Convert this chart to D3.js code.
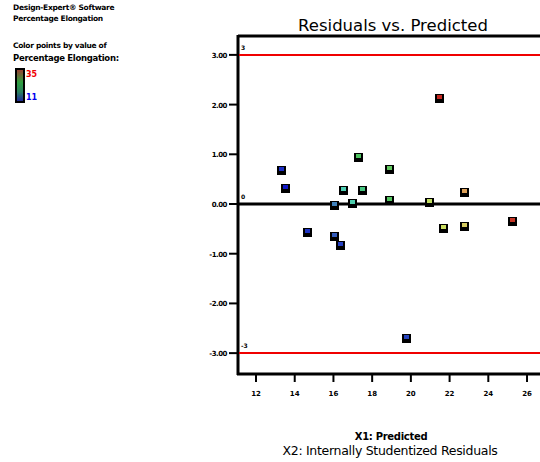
<!DOCTYPE html>
<html>
<head>
<meta charset="utf8" />
<script src="https://cdn.jsdelivr.net/npm/d3@7"></script>
<style>
  body { margin: 0; background: #fff; }
  text { font-family: "DejaVu Sans", sans-serif; }
</style>
</head>
<body>
<script>
// predicted values (X1) and internally studentized residuals (X2)
var predicted = [13.29, 13.5, 14.63, 16.03, 16.03, 16.34, 16.49, 16.96, 17.27, 17.48,
                 18.87, 18.87, 20.94, 21.66, 21.45, 19.75, 22.74, 22.74, 25.22];
var residuals = [0.68, 0.32, -0.56, -0.02, -0.64, -0.82, 0.28, 0.03, 0.95, 0.28,
                 0.70, 0.08, 0.04, -0.48, 2.13, -2.70, 0.24, -0.44, -0.34];
// relative value of percentage elongation, used for colouring (0 low .. 1 high)
var elongation = [0.04, 0.0, 0.05, 0.18, 0.12, 0.07, 0.32, 0.33, 0.47, 0.40,
                  0.50, 0.48, 0.64, 0.66, 0.98, 0.08, 0.82, 0.72, 0.96];
var xTicks = [12, 14, 16, 18, 20, 22, 24, 26];
var yTicks = [3, 2, 1, 0, -1, -2, -3];
var yTickLabels = ["3.00", "2.00", "1.00", "0.00", "-1.00", "-2.00", "-3.00"];
var limit = 3;

var w = 540, h = 462;
var svg = d3.select("body").append("svg").attr("width", w).attr("height", h);

var x = d3.scaleLinear().domain([11.07, 26.67]).range([238, 540]);
var y = d3.scaleLinear().domain([3.38, -3.40]).range([36, 373]);

var color = d3.scaleLinear()
  .domain([0, 0.15, 0.3, 0.45, 0.65, 0.8, 1])
  .range(["#1018c8", "#3c6cb8", "#50d0c0", "#40c060", "#c8e060", "#e0b060", "#c01818"]);

// title
svg.append("text").attr("x", 393).attr("y", 31).attr("text-anchor", "middle")
  .attr("font-size", 16.5).text("Residuals vs. Predicted");

// left info block
var info = [["Design-Expert® Software", 10, 7.5], ["Percentage Elongation", 21, 7.5],
            ["Color points by value of", 48, 7.5], ["Percentage Elongation:", 61, 8.5]];
svg.selectAll("text.info").data(info).enter().append("text")
  .attr("class", "info").attr("x", 13).attr("y", function(d) { return d[1]; })
  .attr("font-size", function(d) { return d[2]; })
  .attr("font-weight", "bold").attr("letter-spacing", -0.3)
  .text(function(d) { return d[0]; });

var grad = svg.append("defs").append("linearGradient").attr("id", "g")
  .attr("x1", 0).attr("y1", 0).attr("x2", 0).attr("y2", 1);
[["0%", "#a03a30"], ["40%", "#30a040"], ["70%", "#2a8060"], ["100%", "#2020a0"]].forEach(function(s) {
  grad.append("stop").attr("offset", s[0]).attr("stop-color", s[1]);
});
svg.append("rect").attr("x", 16).attr("y", 69).attr("width", 8).attr("height", 33)
  .attr("fill", "url(#g)").attr("stroke", "#000").attr("stroke-width", 2);
svg.append("text").attr("x", 26).attr("y", 77).attr("font-size", 8).attr("font-weight", "bold")
  .attr("fill", "#f00000").text("35");
svg.append("text").attr("x", 26).attr("y", 100).attr("font-size", 8).attr("font-weight", "bold")
  .attr("fill", "#0000f0").text("11");

// frame
svg.append("line").attr("x1", 238).attr("x2", 540).attr("y1", 36).attr("y2", 36)
  .attr("stroke", "#000").attr("stroke-width", 3);
svg.append("line").attr("x1", 238).attr("x2", 238).attr("y1", 35).attr("y2", 375)
  .attr("stroke", "#000").attr("stroke-width", 3);
svg.append("line").attr("x1", 237).attr("x2", 540).attr("y1", 374).attr("y2", 374)
  .attr("stroke", "#000").attr("stroke-width", 3);

// y ticks
svg.selectAll("line.yt").data(yTicks).enter().append("line")
  .attr("x1", 229).attr("x2", 238)
  .attr("y1", function(d) { return y(d); }).attr("y2", function(d) { return y(d); })
  .attr("stroke", "#000").attr("stroke-width", 2);
svg.selectAll("text.yl").data(yTicks).enter().append("text")
  .attr("x", 227).attr("y", function(d) { return y(d) + 3; })
  .attr("text-anchor", "end").attr("font-size", 7).attr("font-weight", "bold")
  .attr("letter-spacing", -0.5)
  .text(function(d, i) { return yTickLabels[i]; });

// x ticks
svg.selectAll("line.xt").data(xTicks).enter().append("line")
  .attr("x1", function(d) { return x(d); }).attr("x2", function(d) { return x(d); })
  .attr("y1", 374).attr("y2", 382)
  .attr("stroke", "#000").attr("stroke-width", 2);
svg.selectAll("text.xl").data(xTicks).enter().append("text")
  .attr("x", function(d) { return x(d); }).attr("y", 396)
  .attr("text-anchor", "middle").attr("font-size", 7).attr("font-weight", "bold")
  .text(function(d) { return d; });

// reference lines
svg.selectAll("line.lim").data([limit, -limit]).enter().append("line")
  .attr("x1", 239).attr("x2", 540)
  .attr("y1", function(d) { return y(d); }).attr("y2", function(d) { return y(d); })
  .attr("stroke", "#f00000").attr("stroke-width", 2);
svg.append("line").attr("x1", 239).attr("x2", 540).attr("y1", y(0)).attr("y2", y(0))
  .attr("stroke", "#000").attr("stroke-width", 3);
svg.selectAll("text.lim").data([[limit, "3"], [0, "0"], [-limit, "-3"]]).enter().append("text")
  .attr("x", 241).attr("y", function(d) { return y(d[0]) - 5; })
  .attr("font-size", 6).attr("font-weight", "bold")
  .text(function(d) { return d[1]; });

// points
var pts = svg.selectAll("g.pt").data(predicted).enter().append("g")
  .attr("transform", function(d, i) {
    return "translate(" + Math.round(x(d)) + "," + Math.round(y(residuals[i])) + ")";
  });
pts.append("rect").attr("x", -4).attr("y", -4).attr("width", 9).attr("height", 9).attr("fill", "#000");
pts.append("rect").attr("x", -2).attr("y", -3).attr("width", 5).attr("height", 4)
  .attr("fill", function(d, i) { return color(elongation[i]); });

// axis titles
svg.append("text").attr("x", 391).attr("y", 440).attr("text-anchor", "middle")
  .attr("font-size", 10).attr("font-weight", "bold").attr("letter-spacing", -0.3)
  .text("X1: Predicted");
svg.append("text").attr("x", 390).attr("y", 455).attr("text-anchor", "middle")
  .attr("font-size", 12.5).attr("letter-spacing", -0.3)
  .text("X2: Internally Studentized Residuals");
</script>
</body>
</html>
